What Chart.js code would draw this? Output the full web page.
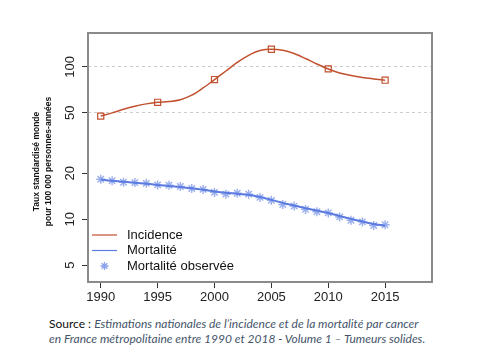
<!DOCTYPE html>
<html lang="fr">
<head>
<meta charset="UTF-8">
<title>Incidence et mortalité</title>
<style>
    body {
        margin: 0;
        background: #fff;
    }
    #wrap {
        position: relative;
        width: 500px;
        height: 360px;
    }
    #source {
        position: absolute;
        left: 49px;
        top: 317px;
        font-family: 'Lato', sans-serif;
        font-size: 12px;
        line-height: 14.5px;
        color: #111;
        white-space: nowrap;
    }
    #source i {
        color: #44546a;
    }
</style>
<script src="https://cdn.jsdelivr.net/npm/chart.js"></script>
</head>
<body>
<div id="wrap">
    <canvas id="chart" width="500" height="310"></canvas>
    <div id="source">Source : <i>Estimations nationales de l’incidence et de la mortalité par cancer</i><br><i>en France métropolitaine entre 1990 et 2018 - Volume 1 – Tumeurs solides.</i></div>
</div>
<script>
// data
const years = [1990, 1991, 1992, 1993, 1994, 1995, 1996, 1997, 1998, 1999, 2000, 2001, 2002,
               2003, 2004, 2005, 2006, 2007, 2008, 2009, 2010, 2011, 2012, 2013, 2014, 2015];
const incidence = [47.5, 49.9, 52.7, 55.2, 57.2, 58.6, 59.2, 60.8, 65.2, 72.8, 82.6, 94, 107,
                   119, 128, 130.6, 128.7, 122.5, 113.5, 104.5, 97, 91.3, 87.8, 85.2, 83.4, 81.8];
const incidenceMarkYears = [1990, 1995, 2000, 2005, 2010, 2015];
const mortalite = [18.2, 17.9, 17.6, 17.35, 17.1, 16.8, 16.55, 16.25, 15.95, 15.6, 15.2, 14.9, 14.7,
                   14.45, 14.0, 13.4, 12.8, 12.3, 11.8, 11.4, 11.0, 10.5, 10.05, 9.65, 9.3, 9.05];
const mortaliteObs = [18.3, 17.9, 17.5, 17.4, 17.2, 16.8, 16.7, 16.4, 15.9, 15.7, 15.0, 14.6, 14.8,
                      14.6, 13.9, 13.3, 12.5, 12.2, 11.6, 11.2, 11.0, 10.35, 9.85, 9.6, 9.1, 9.2];
const xTicks = [1990, 1995, 2000, 2005, 2010, 2015];
const yTicks = [5, 10, 20, 50, 100];
const legendItems = ['Incidence', 'Mortalité', 'Mortalité observée'];
const yTitle = ['Taux standardisé monde', 'pour 100 000 personnes-années'];

const RED = '#c2512f';
const BLUE = '#5b7be0';

function pts(vals) {
    return years.map((yr, i) => ({x: yr, y: vals[i]}));
}

const overlay = {
    id: 'overlay',
    afterDraw(chart) {
        const {ctx, chartArea: a, scales} = chart;
        ctx.save();
        // plot box
        ctx.strokeStyle = '#8a8a8a';
        ctx.lineWidth = 2;
        ctx.strokeRect(a.left, a.top, a.right - a.left, a.bottom - a.top);

        // y tick labels, rotated like R
        ctx.fillStyle = '#222';
        ctx.font = '13px "Liberation Sans"';
        ctx.textAlign = 'center';
        ctx.textBaseline = 'middle';
        yTicks.forEach(v => {
            ctx.save();
            ctx.translate(a.left - 18, scales.y.getPixelForValue(v));
            ctx.rotate(-Math.PI / 2);
            ctx.fillText(String(v), 0, 0);
            ctx.restore();
        });

        // axis title
        ctx.fillStyle = '#111';
        ctx.font = 'bold 8.5px "Liberation Sans"';
        const cy = (a.top + a.bottom) / 2 + 4;
        yTitle.forEach((t, i) => {
            ctx.save();
            ctx.translate(37 + i * 11.5, cy);
            ctx.rotate(-Math.PI / 2);
            ctx.fillText(t, 0, 0);
            ctx.restore();
        });

        // legend inside the plot
        ctx.font = '13px "Liberation Sans"';
        ctx.textAlign = 'left';
        const x0 = a.left + 4;
        legendItems.forEach((t, i) => {
            const yy = a.bottom - 47 + i * 15.5;
            ctx.fillStyle = '#111';
            ctx.fillText(t, a.left + 39, yy);
            if (i < 2) {
                ctx.strokeStyle = i === 0 ? RED : BLUE;
                ctx.lineWidth = 1.2;
                ctx.beginPath();
                ctx.moveTo(x0, yy);
                ctx.lineTo(x0 + 25, yy);
                ctx.stroke();
            } else {
                ctx.strokeStyle = 'rgba(110,140,230,0.8)';
                ctx.lineWidth = 1.3;
                const cx = x0 + 12.5, r = 4;
                ctx.beginPath();
                ctx.moveTo(cx - r, yy); ctx.lineTo(cx + r, yy);
                ctx.moveTo(cx, yy - r); ctx.lineTo(cx, yy + r);
                const d = r * Math.SQRT1_2;
                ctx.moveTo(cx - d, yy - d); ctx.lineTo(cx + d, yy + d);
                ctx.moveTo(cx - d, yy + d); ctx.lineTo(cx + d, yy - d);
                ctx.stroke();
            }
        });
        ctx.restore();
    }
};

new Chart(document.getElementById('chart'), {
    type: 'line',
    data: {
        datasets: [
            {
                label: 'Mortalité',
                data: pts(mortalite),
                borderColor: BLUE,
                borderWidth: 2,
                pointRadius: 0,
                tension: 0.3
            },
            {
                label: 'Mortalité observée',
                data: pts(mortaliteObs),
                showLine: false,
                pointStyle: 'star',
                pointRadius: 4.5,
                borderColor: 'rgba(110,140,230,0.7)',
                borderWidth: 1.4
            },
            {
                label: 'Incidence',
                data: pts(incidence),
                borderColor: RED,
                borderWidth: 1.5,
                pointRadius: 0,
                cubicInterpolationMode: 'monotone'
            },
            {
                label: 'Incidence (points)',
                data: incidenceMarkYears.map(yr => ({x: yr, y: incidence[years.indexOf(yr)]})),
                showLine: false,
                pointStyle: 'rect',
                pointRadius: 4.3,
                borderColor: RED,
                backgroundColor: 'rgba(0,0,0,0)',
                borderWidth: 1.2
            }
        ]
    },
    options: {
        responsive: false,
        animation: false,
        devicePixelRatio: 1,
        layout: {padding: {left: 0, right: 68, top: 33, bottom: 0}},
        plugins: {
            legend: {display: false},
            tooltip: {enabled: false}
        },
        scales: {
            x: {
                type: 'linear',
                min: 1988.88,
                max: 2019.12,
                afterBuildTicks: s => { s.ticks = xTicks.map(v => ({value: v})); },
                afterFit: s => { s.height = 28; },
                ticks: {
                    color: '#222',
                    font: {family: 'Liberation Sans', size: 13},
                    padding: 2,
                    maxRotation: 0,
                    autoSkip: false,
                    callback: v => String(v)
                },
                grid: {
                    drawOnChartArea: false,
                    tickLength: 6,
                    tickColor: '#333'
                },
                border: {display: false}
            },
            y: {
                type: 'logarithmic',
                min: 3.87,
                max: 167,
                afterBuildTicks: s => { s.ticks = yTicks.map(v => ({value: v})); },
                afterFit: s => { s.width = 88; },
                ticks: {display: false},
                grid: {
                    color: c => (c.tick && (c.tick.value === 50 || c.tick.value === 100)) ? '#cccccc' : 'rgba(0,0,0,0)',
                    tickLength: 6,
                    tickColor: '#333',
                    tickBorderDash: []
                },
                border: {display: false, dash: [3, 3]}
            }
        }
    },
    plugins: [overlay]
});
</script>
</body>
</html>
